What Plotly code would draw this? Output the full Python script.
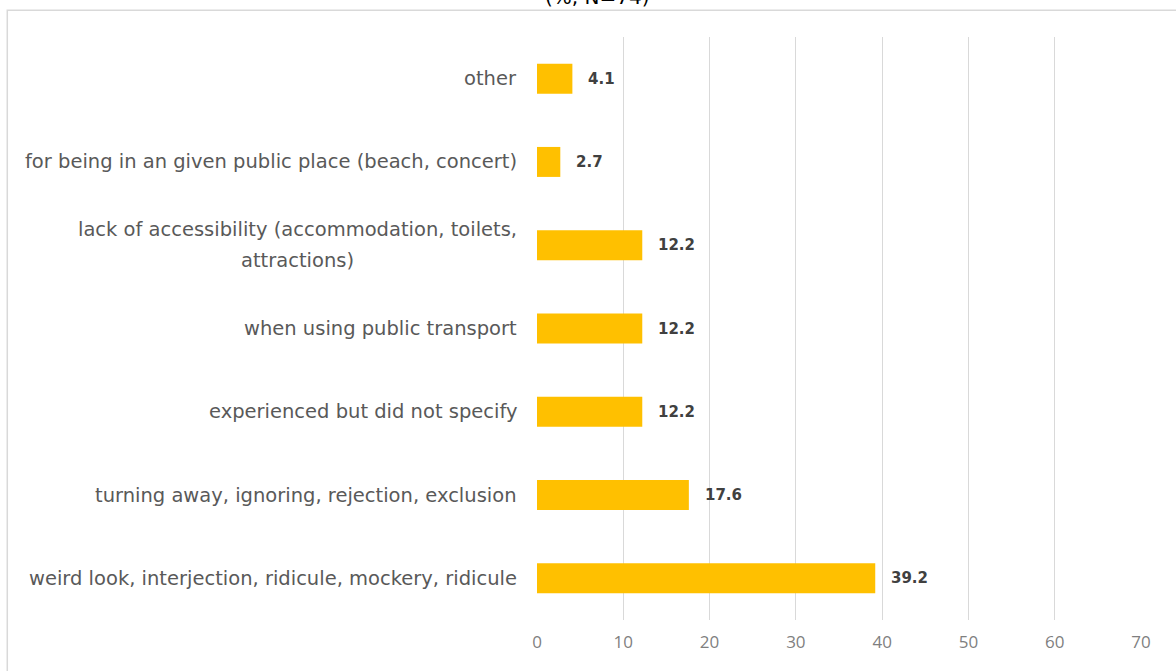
import plotly.graph_objects as go

# Survey categories, bottom to top as drawn
categories = [
    "weird look, interjection, ridicule, mockery, ridicule",
    "turning away, ignoring, rejection, exclusion",
    "experienced but did not specify",
    "when using public transport",
    "lack of accessibility (accommodation, toilets,<br>attractions)",
    "for being in an given public place (beach, concert)",
    "other",
]
shares = [39.2, 17.6, 12.2, 12.2, 12.2, 2.7, 4.1]
x_ticks = [0, 10, 20, 30, 40, 50, 60, 70]

BAR = "#FFC000"
FONT = "'DejaVu Sans', 'Open Sans', sans-serif"


def sized(label, px):
    # Glyph size set per line; the annotation font size drives line spacing
    return "<br>".join(
        f"<span style='font-size:{px}px'>{part}</span>" for part in label.split("<br>")
    )


fig = go.Figure()
fig.add_trace(go.Bar(
    y=list(range(len(categories))),
    x=shares,
    orientation="h",
    marker=dict(color=BAR, line=dict(width=0)),
    hoverinfo="skip",
))

# Value labels to the right of each bar
for i, v in enumerate(shares):
    fig.add_annotation(
        x=v, y=i, xref="x", yref="y",
        text=f"{v:.1f}", showarrow=False,
        xanchor="left", yanchor="middle", xshift=14,
        font=dict(family=FONT, size=15, color="#404040", weight="bold"),
    )

# Category labels, wrapped lines centred under each other
for i, name in enumerate(categories):
    fig.add_annotation(
        x=0, y=i, xref="x", yref="y",
        text=sized(name, 19.5), showarrow=False,
        xanchor="right", yanchor="middle", align="center",
        xshift=-18,
        font=dict(family=FONT, size=24, color="#595959"),
    )

# Heading that sits above the chart frame
fig.add_annotation(
    x=0.1, y=1.0, xref="paper", yref="paper",
    text="(%, N=74)", showarrow=False,
    xanchor="center", yanchor="bottom", yshift=26,
    font=dict(family=FONT, size=20, color="#000000"),
)

# Light frame around the chart area
fig.add_shape(
    type="rect", xref="paper", yref="paper",
    x0=-0.877, x1=1.1, y0=-0.2, y1=1.046,
    line=dict(color="#D9D9D9", width=1.5),
    fillcolor="rgba(0,0,0,0)", layer="below",
)

fig.update_layout(
    width=1176, height=671,
    margin=dict(l=537, r=35, t=37, b=51),
    paper_bgcolor="white", plot_bgcolor="white",
    showlegend=False,
    bargap=0.64,
    xaxis=dict(
        range=[0, 70], tickvals=x_ticks,
        showgrid=True, gridcolor="#D9D9D9", gridwidth=1,
        zeroline=False, showline=False,
        ticks="", ticklabelstandoff=10,
        tickfont=dict(family="'Open Sans', sans-serif", size=17, color="#7F7F7F"),
    ),
    yaxis=dict(
        range=[-0.5, len(categories) - 0.5],
        showticklabels=False, showgrid=False, zeroline=False,
        showline=False,
    ),
)

fig.write_html("out.html")
